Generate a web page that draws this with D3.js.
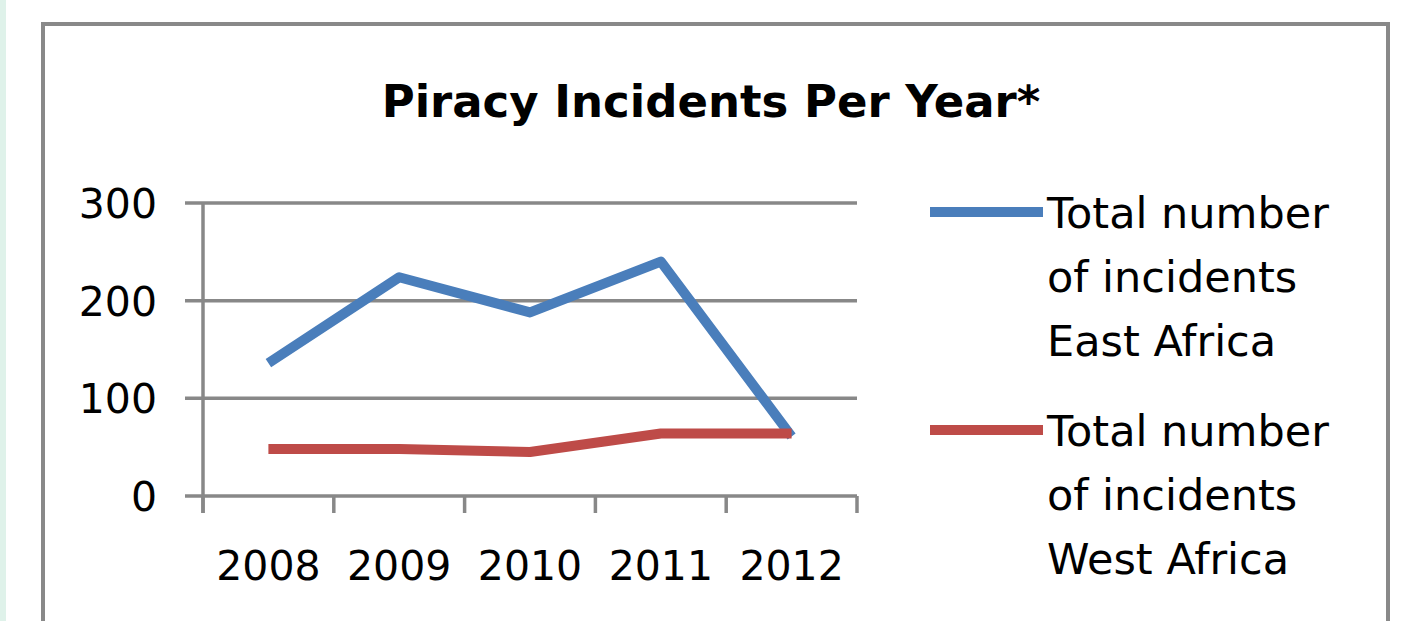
<!DOCTYPE html>
<html>
<head>
<meta charset="utf-8">
<script src="https://cdn.jsdelivr.net/npm/d3@7"></script>
<style>
  body { margin: 0; background: #ffffff; }
  svg text { font-family: "DejaVu Sans", sans-serif; fill: #000; }
</style>
</head>
<body>
<div id="my_dataviz"></div>
<script>
// chart data
var years = ["2008", "2009", "2010", "2011", "2012"];
var eastAfrica = [136, 224, 188, 240, 61];
var westAfrica = [48, 48, 45, 64, 64];
var yTicks = [0, 100, 200, 300];
var seriesNames = [
  ["Total number", "of incidents", "East Africa"],
  ["Total number", "of incidents", "West Africa"]
];
var seriesColors = ["#4a7ebb", "#be4b48"];

var W = 1417, H = 621;

var svg = d3.select("#my_dataviz")
  .append("svg")
    .attr("width", W)
    .attr("height", H);

// light strip on the left edge
svg.append("rect")
  .attr("x", 0).attr("y", 0)
  .attr("width", 6).attr("height", H)
  .attr("fill", "#dff2ea");

// chart frame (runs off the bottom)
svg.append("rect")
  .attr("x", 43).attr("y", 24)
  .attr("width", 1345).attr("height", H + 20)
  .attr("fill", "#fff")
  .attr("stroke", "#898989")
  .attr("stroke-width", 4);

// title
svg.append("text")
  .attr("x", 711)
  .attr("y", 117)
  .attr("text-anchor", "middle")
  .style("font-weight", "bold")
  .style("font-size", "45px")
  .text("Piracy Incidents Per Year*");

// scales
var x = d3.scaleBand()
  .domain(years)
  .range([203, 857])
  .padding(0);

var y = d3.scaleLinear()
  .domain([0, 300])
  .range([496, 203]);

var axisColor = "#888888";

// gridlines + y ticks
svg.append("g")
  .selectAll("line")
  .data(yTicks)
  .enter()
  .append("line")
    .attr("x1", 185)
    .attr("x2", 857)
    .attr("y1", function(d) { return y(d); })
    .attr("y2", function(d) { return y(d); })
    .attr("stroke", axisColor)
    .attr("stroke-width", 3.5);

// y axis line
svg.append("line")
  .attr("x1", x.range()[0]).attr("x2", x.range()[0])
  .attr("y1", y(300)).attr("y2", y(0) + 17)
  .attr("stroke", axisColor)
  .attr("stroke-width", 3.5);

// x tick marks at category boundaries
var bounds = years.map(function(d) { return x(d); }).concat([x.range()[1]]);
svg.append("g")
  .selectAll("line")
  .data(bounds)
  .enter()
  .append("line")
    .attr("x1", function(d) { return d; })
    .attr("x2", function(d) { return d; })
    .attr("y1", y(0))
    .attr("y2", y(0) + 17)
    .attr("stroke", axisColor)
    .attr("stroke-width", 3.5);

// y labels
svg.append("g")
  .selectAll("text")
  .data(yTicks)
  .enter()
  .append("text")
    .attr("x", 157)
    .attr("y", function(d) { return y(d) + 15; })
    .attr("text-anchor", "end")
    .style("font-size", "41px")
    .text(function(d) { return d; });

// x labels
svg.append("g")
  .selectAll("text")
  .data(years)
  .enter()
  .append("text")
    .attr("x", function(d) { return x(d) + x.bandwidth() / 2; })
    .attr("y", 580)
    .attr("text-anchor", "middle")
    .style("font-size", "41px")
    .text(function(d) { return d; });

// lines
var line = d3.line()
  .x(function(d, i) { return x(years[i]) + x.bandwidth() / 2; })
  .y(function(d) { return y(d); });

[eastAfrica, westAfrica].forEach(function(series, k) {
  svg.append("path")
    .datum(series)
    .attr("d", line)
    .attr("fill", "none")
    .attr("stroke", seriesColors[k])
    .attr("stroke-width", 10)
    .attr("stroke-linejoin", "round")
    .attr("stroke-linecap", "butt");
});

// legend
var legend = svg.append("g");
seriesNames.forEach(function(lines, k) {
  var top = 228 + k * 218;
  legend.append("line")
    .attr("x1", 930).attr("x2", 1043)
    .attr("y1", top - 16).attr("y2", top - 16)
    .attr("stroke", seriesColors[k])
    .attr("stroke-width", 10);
  lines.forEach(function(t, j) {
    legend.append("text")
      .attr("x", 1047)
      .attr("y", top + j * 64)
      .style("font-size", "43px")
      .text(t);
  });
});
</script>
</body>
</html>
